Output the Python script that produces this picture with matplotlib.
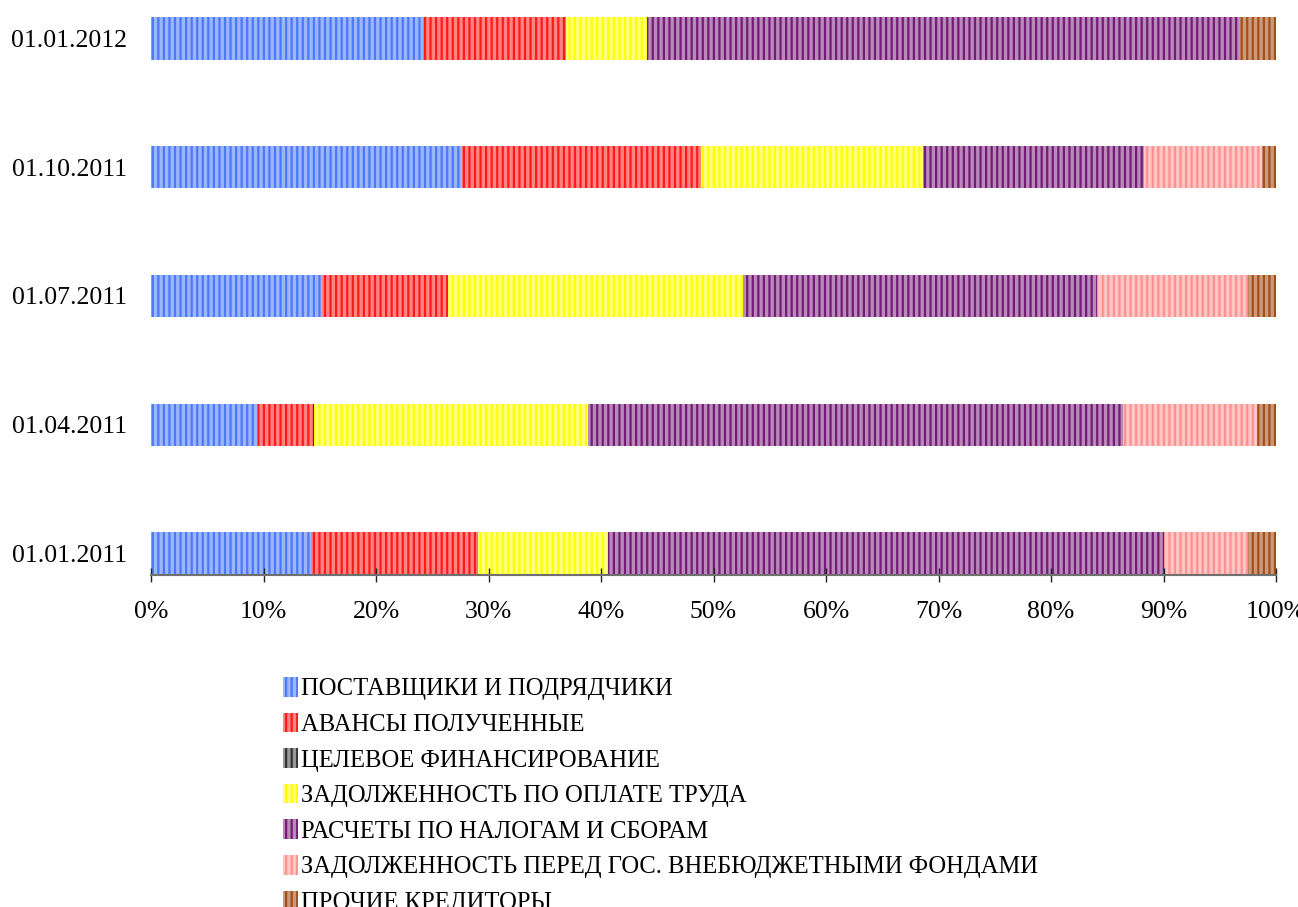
import numpy as np
import matplotlib
matplotlib.use("Agg")
import matplotlib.pyplot as plt
from matplotlib.ticker import FuncFormatter

plt.rcParams['font.family'] = ['Liberation Serif', 'DejaVu Serif']
plt.rcParams['hatch.linewidth'] = 1.6

dates = ["01.01.2011", "01.04.2011", "01.07.2011", "01.10.2011", "01.01.2012"]
series_names = [
    "ПОСТАВЩИКИ И ПОДРЯДЧИКИ",
    "АВАНСЫ ПОЛУЧЕННЫЕ",
    "ЦЕЛЕВОЕ ФИНАНСИРОВАНИЕ",
    "ЗАДОЛЖЕННОСТЬ ПО ОПЛАТЕ ТРУДА",
    "РАСЧЕТЫ ПО НАЛОГАМ И СБОРАМ",
    "ЗАДОЛЖЕННОСТЬ ПЕРЕД ГОС. ВНЕБЮДЖЕТНЫМИ ФОНДАМИ",
    "ПРОЧИЕ КРЕДИТОРЫ",
]
# percent shares per date (order as dates)
suppliers = [14.2, 9.5, 15.2, 27.6, 24.2]
advances = [14.8, 4.9, 11.2, 21.3, 12.6]
target_fin = [0.05, 0.1, 0.0, 0.0, 0.1]
wages = [11.55, 24.3, 26.2, 19.7, 7.2]
taxes = [49.4, 47.6, 31.5, 19.7, 52.6]
funds = [7.5, 11.9, 13.4, 10.5, 0.0]
other = [2.5, 1.7, 2.5, 1.2, 3.3]

series = [suppliers, advances, target_fin, wages, taxes, funds, other]
dark_colors = ["#4A78FF", "#FF1A1A", "#333333", "#FFFF00", "#761A7A", "#FF9090", "#A64E16"]
light_colors = ["#9DB6F7", "#FF8585", "#9A9A9A", "#FFFF80", "#B78AB8", "#FFC6C6", "#C99A7E"]

data = np.array(series, dtype=float)
data = data / data.sum(axis=0) * 100.0

fig = plt.figure(figsize=(12.98, 9.07), dpi=100)
ax = fig.add_axes([151/1298, 1-575/907, (1276-151)/1298, (575-17)/907])

y = np.arange(len(dates))
left = np.zeros(len(dates))
handles = []
for i, name in enumerate(series_names):
    b = ax.barh(y, data[i], left=left, height=0.33, color=light_colors[i],
                edgecolor=dark_colors[i], linewidth=0, hatch='|||', label=name)
    handles.append(b)
    left += data[i]

ax.set_xlim(0, 100)
ax.set_ylim(-0.165, 4.165)
ax.set_yticks(y)
ax.set_yticklabels(dates)
ax.set_xticks(np.arange(0, 101, 10))
ax.xaxis.set_major_formatter(FuncFormatter(lambda v, p: f"{int(round(v))}%"))

for s in ['top', 'right', 'left']:
    ax.spines[s].set_visible(False)
ax.spines['bottom'].set_color('#707070')
ax.spines['bottom'].set_linewidth(1.5)
ax.tick_params(axis='y', length=0, pad=17, labelsize=18.5)
ax.tick_params(axis='x', direction='inout', length=10, width=1, color='#222222',
               pad=13.5, labelsize=18.5)

leg = fig.legend(handles=handles, labels=series_names, loc='upper left',
                 bbox_to_anchor=(283/1298, 1-677/907), frameon=False,
                 fontsize=17.7, handlelength=0.6, handleheight=0.85,
                 handletextpad=0.15, labelspacing=0.5, borderpad=0,
                 borderaxespad=0)

fig.savefig("out.png", dpi=100)
